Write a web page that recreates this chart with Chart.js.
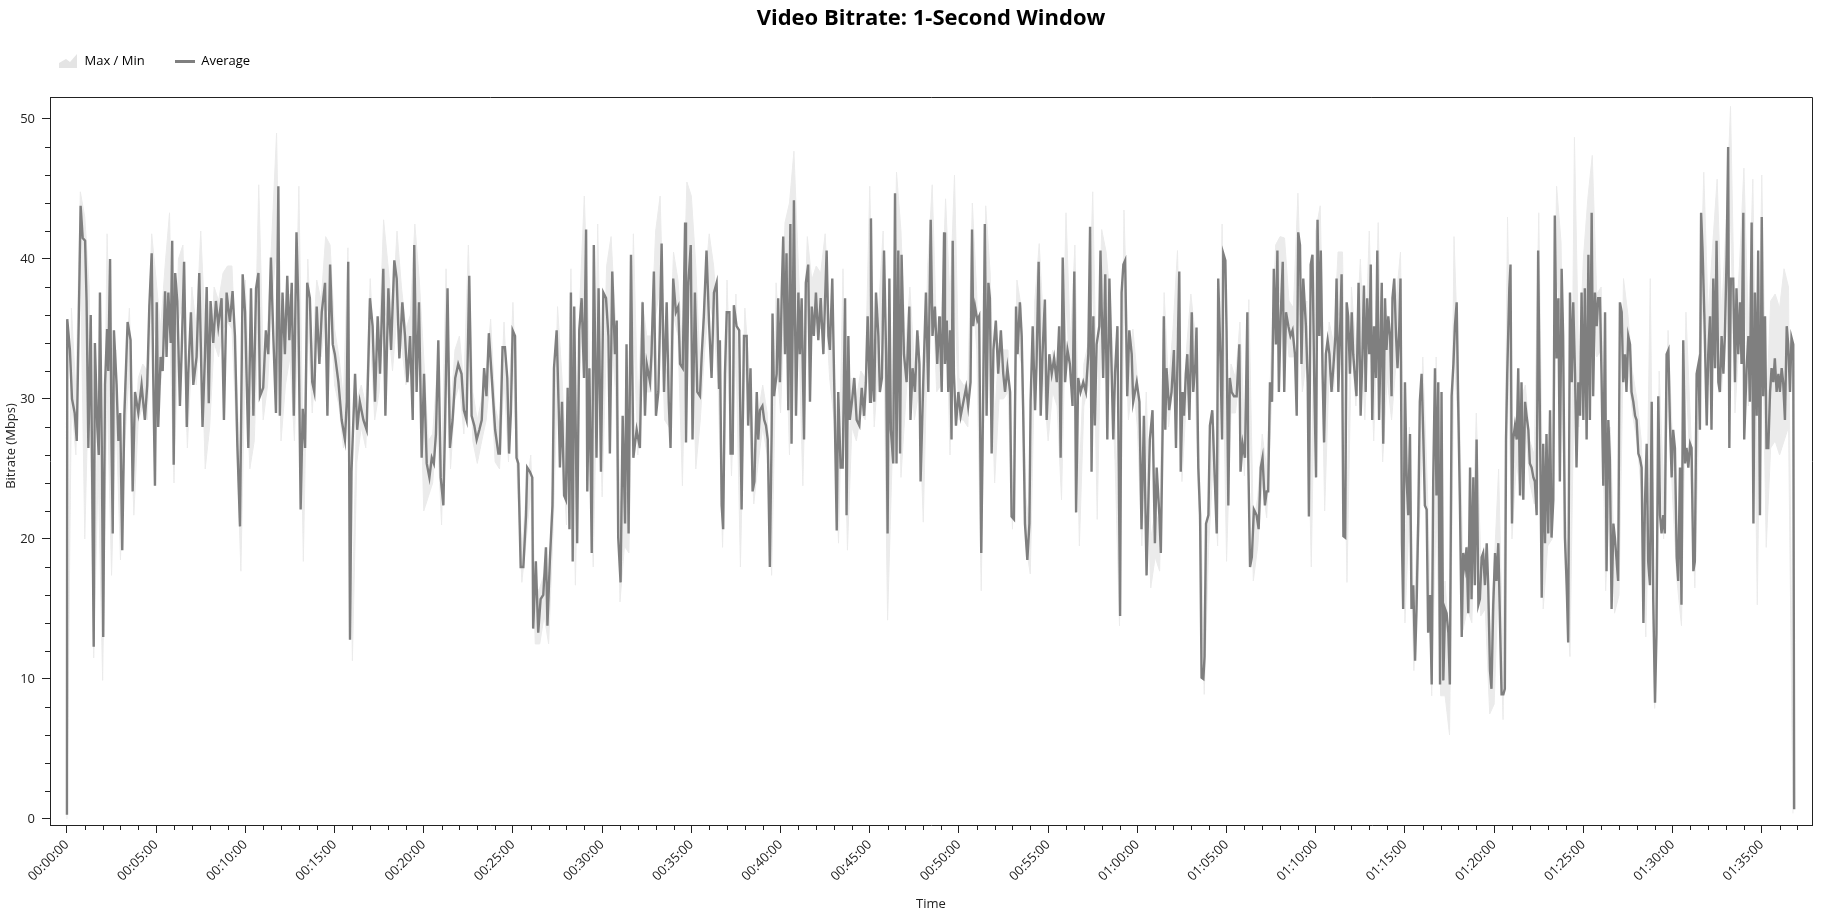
<!DOCTYPE html>
<html>
<head>
<meta charset="utf-8">
<title>Video Bitrate: 1-Second Window</title>
<script src="https://cdn.jsdelivr.net/npm/chart.js@4.4.1/dist/chart.umd.min.js"></script>
<style>
  html, body { margin: 0; padding: 0; background: #fff; }
  #wrap { width: 1832px; height: 918px; }
</style>
</head>
<body>
<div id="wrap"><canvas id="chart"></canvas></div>
<script>
const chartTitle = 'Video Bitrate: 1-Second Window';
const legendLabels = ['Max / Min', 'Average'];
const xTitle = 'Time';
const yTitle = 'Bitrate (Mbps)';

// tick positions: every 5 minutes on x (seconds), every 10 Mbps on y
const xTickSeconds = [0, 300, 600, 900, 1200, 1500, 1800, 2100, 2400, 2700,
  3000, 3300, 3600, 3900, 4200, 4500, 4800, 5100, 5400, 5700];
const yTickValues = [0, 10, 20, 30, 40, 50];

// average bitrate: time (s) and value (Mbps)
const avgSeconds = [
  0, 1, 10, 17, 26, 33, 40, 46, 53, 61,
  66, 72, 80, 90, 94, 102, 107, 111, 117, 122,
  128, 135, 139, 145, 150, 154, 158, 167, 173, 179,
  186, 193, 204, 214, 221, 229, 240, 251, 262, 270,
  277, 285, 290, 296, 302, 307, 315, 322, 330, 335,
  341, 349, 354, 359, 364, 371, 380, 386, 394, 403,
  408, 417, 425, 436, 445, 456, 464, 470, 477, 483,
  492, 501, 509, 520, 528, 537, 548, 557, 565, 573,
  582, 591, 599, 610, 619, 627, 636, 644, 649, 660,
  669, 677, 686, 694, 703, 711,
  716, 725, 733, 741, 748, 756, 763, 772, 778, 786,
  793, 801, 808, 817, 825, 832, 840, 849, 857, 868,
  876, 885, 894, 901, 913, 924, 935, 941, 946, 952,
  957, 969, 976, 985, 997, 1008, 1019, 1028, 1036, 1045,
  1053, 1064, 1071, 1081, 1090, 1101, 1109, 1118, 1128, 1137,
  1145, 1154, 1163, 1168, 1176, 1184, 1193, 1201, 1210, 1219,
  1227, 1234, 1241, 1249, 1257, 1266, 1272, 1280, 1288, 1297,
  1306, 1316, 1327, 1335, 1344, 1353, 1361, 1370, 1378, 1387,
  1395, 1403, 1411, 1419, 1428, 1440, 1451,
  1456, 1465, 1473, 1481, 1487, 1493, 1499, 1507, 1512, 1518,
  1526, 1535, 1544, 1548, 1557, 1565, 1568, 1577, 1585, 1593,
  1602, 1611, 1616, 1624, 1633, 1638, 1647, 1654, 1658, 1665,
  1672, 1678, 1684, 1690, 1695, 1701, 1706, 1716, 1723, 1731,
  1739, 1746, 1750, 1757, 1765, 1772, 1781, 1788, 1796, 1804,
  1813, 1821, 1826, 1834, 1843, 1849, 1854, 1862, 1869, 1877,
  1882, 1889, 1897, 1905, 1916, 1927, 1936, 1944, 1950, 1961,
  1966, 1974, 1981, 1989, 1994, 2000, 2008, 2017, 2024, 2030,
  2039, 2048, 2056, 2062, 2071, 2079, 2082, 2090, 2098, 2104,
  2112, 2120, 2129, 2135, 2142, 2151, 2160, 2168, 2176, 2185,
  2193,
  2196, 2202, 2207, 2213, 2219, 2228, 2232, 2239, 2243, 2252,
  2261, 2269, 2277, 2286, 2291, 2299, 2306, 2312, 2320, 2325,
  2331, 2339, 2345, 2351, 2357, 2364, 2370, 2373, 2378, 2387,
  2392, 2398, 2404, 2409, 2415, 2420, 2426, 2433, 2437, 2445,
  2452, 2460, 2465, 2471, 2479, 2485, 2493, 2499, 2505, 2512,
  2519, 2527, 2535, 2544, 2555, 2561, 2566, 2574, 2581, 2589,
  2594, 2602, 2609, 2617, 2622, 2628, 2633, 2640, 2648, 2656,
  2665, 2673, 2681, 2687, 2693, 2701, 2704, 2710, 2715, 2721,
  2729, 2734, 2741, 2748, 2755, 2760, 2766, 2771, 2779, 2785,
  2790, 2796, 2802, 2807, 2815, 2824, 2833, 2837, 2844, 2852,
  2860, 2867, 2871, 2880, 2889, 2897, 2905, 2911, 2919, 2927,
  2934,
  2936, 2942, 2950, 2953, 2959, 2964, 2970, 2975, 2979, 2983,
  2990, 2998, 3006, 3015, 3024, 3031, 3039, 3044, 3048, 3054,
  3062, 3068, 3075, 3082, 3087, 3093, 3099, 3104, 3110, 3116,
  3124, 3132, 3141, 3149, 3155, 3163, 3172, 3177, 3185, 3192,
  3197, 3205, 3211, 3216, 3222, 3230, 3237, 3241, 3248, 3256,
  3261, 3268, 3275, 3281, 3289, 3295, 3304, 3312, 3320, 3329,
  3337, 3342, 3349, 3357, 3365, 3373, 3382, 3388, 3394, 3401,
  3409, 3418, 3427, 3435, 3441, 3446, 3452, 3457, 3463, 3472,
  3476, 3485, 3492, 3499, 3506, 3510, 3519, 3525, 3533, 3542,
  3547, 3553, 3559, 3566, 3573, 3581, 3586, 3598, 3607, 3614,
  3622, 3631, 3642, 3651, 3659, 3665, 3674,
  3679, 3685, 3689, 3694, 3698, 3707, 3715, 3723, 3730, 3734,
  3741, 3746, 3752, 3757, 3763, 3768, 3775, 3783, 3788, 3795,
  3799, 3805, 3811, 3816, 3822, 3826, 3831, 3839, 3844, 3852,
  3859, 3867, 3872, 3880, 3885, 3889, 3896, 3900, 3906, 3911,
  3917, 3925, 3934, 3943, 3947, 3954, 3962, 3970, 3973, 3979,
  3985, 3992, 4001, 4008, 4015, 4021, 4029, 4035, 4040, 4046,
  4053, 4059, 4066, 4071, 4076, 4082, 4089, 4094, 4100, 4108,
  4115, 4122, 4130, 4136, 4141, 4147, 4152, 4158, 4167, 4173,
  4177, 4183, 4189, 4195, 4201, 4206, 4212, 4217, 4223, 4228,
  4234, 4240, 4246, 4253, 4259, 4266, 4270, 4276, 4281, 4287,
  4293, 4299, 4304, 4309, 4315, 4321, 4326, 4332, 4337, 4344,
  4351, 4357, 4362, 4368, 4373, 4380, 4385, 4390, 4396, 4402,
  4407, 4413,
  4416, 4422, 4427, 4433, 4438, 4444, 4450, 4455, 4458, 4464,
  4470, 4475, 4481, 4485, 4490, 4494, 4500, 4506, 4511, 4517,
  4522, 4528, 4534, 4539, 4545, 4550, 4556, 4562, 4567, 4573,
  4578, 4584, 4590, 4595, 4601, 4606, 4612, 4618, 4623, 4629,
  4635, 4640, 4646, 4651, 4657, 4663, 4668, 4674, 4679, 4685,
  4691, 4696, 4702, 4707, 4713, 4719, 4724, 4730, 4735, 4741,
  4747, 4752, 4758, 4763, 4769, 4775, 4780, 4786, 4791, 4797,
  4803, 4808, 4814, 4820, 4825, 4831, 4836, 4840, 4844, 4851,
  4855, 4860, 4864, 4870, 4876, 4881, 4887, 4892, 4898, 4904,
  4909, 4915, 4920, 4926, 4932, 4937, 4943, 4948, 4954, 4960,
  4965, 4971, 4976, 4982, 4988, 4993, 4999, 5004, 5010, 5016,
  5021, 5027, 5032, 5038, 5044, 5049, 5055, 5061, 5066, 5072,
  5077, 5083, 5089, 5094, 5100, 5105, 5111, 5117, 5122, 5128,
  5133, 5139, 5145, 5150,
  5156, 5161, 5167, 5173, 5178, 5184, 5189, 5195, 5201, 5206,
  5212, 5217, 5223, 5229, 5234, 5240, 5245, 5251, 5257, 5262,
  5268, 5274, 5279, 5285, 5290, 5296, 5302, 5307, 5313, 5318,
  5324, 5330, 5335, 5341, 5346, 5352, 5358, 5363, 5369, 5374,
  5380, 5386, 5391, 5397, 5402, 5408, 5414, 5419, 5425, 5430,
  5436, 5442, 5447, 5453, 5459, 5464, 5470, 5475, 5481, 5487,
  5492, 5496, 5501, 5507, 5515, 5520, 5526, 5531, 5537, 5543,
  5548, 5554, 5559, 5565, 5571, 5576, 5582, 5587, 5591, 5596,
  5604, 5610, 5615, 5621, 5627, 5632, 5638, 5641, 5649, 5655,
  5660, 5666, 5672, 5677, 5683, 5688, 5694, 5700, 5705, 5711,
  5716, 5722, 5728, 5733, 5739, 5744, 5750, 5756, 5761, 5767,
  5772, 5778, 5784, 5789, 5795, 5800, 5806, 5809
];
const avgMbps = [
  0.3, 35.7, 33.5, 30, 29, 27, 36, 43.8, 41.5, 41.3,
  37, 26.5, 36, 12.3, 34, 28, 26, 37.6, 27, 13,
  31, 35, 32, 40, 26.8, 20.4, 34.9, 31, 27, 29,
  19.2, 28.8, 35.5, 34.2, 23.4, 30.5, 29, 31, 28.5, 31,
  36.6, 40.4, 31.8, 23.8, 36.9, 28, 33, 32, 37.7, 33,
  37.6, 34, 41.3, 25.3, 39, 37, 29.5, 33.5, 39.8, 28,
  31.8, 36.2, 31, 33, 39, 28, 33, 38, 29.7, 37,
  34, 37, 35.2, 37.2, 28.5, 37.6, 35.5, 37.7, 34.5, 26.8,
  20.9, 38.9, 36.2, 26.5, 37.9, 28.8, 37.9, 39, 30.2, 30.8,
  34.9, 33.2, 40.1, 34.5, 29, 45.2,
  28.8, 37.6, 33.2, 38.8, 34.2, 38.3, 28.8, 41.9, 36.9, 22.1,
  29.3, 26.5, 38.3, 37.2, 31.2, 30.5, 36.6, 32.5, 36.2, 38.3,
  28.8, 39.6, 33.9, 33.2, 31.2, 28.5, 27.1, 29.8, 39.8, 12.8,
  24.8, 31.8, 27.8, 29.8, 28.5, 27.8, 37.2, 35.2, 29.8, 35.9,
  31.8, 39.3, 28.8, 37.9, 33.5, 39.9, 38.6, 32.9, 36.9, 34.5,
  31.2, 34.5, 28.5, 41, 30.5, 36.9, 25.8, 31.8, 25.4, 24.4,
  25.8, 25.4, 27.5, 34.2, 24.4, 22.4, 28.5, 37.9, 26.5, 28.5,
  31.5, 32.5, 31.8, 29.2, 28.5, 38.8, 28.8, 28.1, 27.1, 27.8,
  28.5, 32.2, 30.2, 34.7, 31.8, 27.8, 26.1,
  26.1, 33.7, 33.7, 31.5, 26.1, 29, 34.9, 34.5, 25.8, 25.4,
  18, 18, 21.7, 25.1, 24.8, 24.4, 13.6, 18.4, 13.3, 15.7,
  16, 19.4, 13.8, 18.4, 22.4, 32.2, 34.9, 29.2, 25.1, 29.8,
  23.1, 22.8, 30.8, 20.7, 37.6, 18.4, 36.6, 19.7, 34.9, 37.2,
  31.5, 42.1, 23.4, 32.2, 19, 41, 25.8, 37.9, 24.8, 37.6,
  37.2, 34.5, 26.1, 39.1, 33.2, 35.6, 20.1, 16.9, 28.8, 21.1,
  33.9, 20.4, 40.3, 25.8, 27.8, 26.5, 36.9, 28.8, 32.5, 31.2,
  33.2, 39.1, 28.8, 30.5, 34.9, 41.1, 30.5, 36.9, 29.8, 26.5,
  38.6, 36.2, 36.6, 32.5, 32.2, 42.6, 26.9, 38.3, 41, 27.1,
  37.6, 30.5, 30.2, 33.2, 35.9, 40.6, 35.2, 31.5, 37.6, 38.3,
  30.8,
  34.2, 22.4, 20.7, 31.8, 36.2, 36.2, 26.1, 26.1, 36.7, 35.2,
  34.9, 22.1, 34.5, 34.5, 28.1, 32.2, 23.4, 24.1, 30.5, 27.1,
  29.2, 29.5, 28.5, 28.1, 27.1, 18, 27.5, 36.1, 30.2, 31.8,
  37.2, 31.2, 37.6, 41.6, 33.2, 40.4, 29.2, 42.5, 26.8, 44.2,
  28.8, 37.6, 33.2, 37.2, 27.1, 38.3, 39.6, 29.8, 36.6, 34.5,
  37.6, 34.2, 37.2, 33.2, 40.6, 34.5, 33.5, 38.6, 30.5, 20.6,
  30.5, 25.1, 25.1, 37.2, 21.7, 34.5, 28.5, 29.8, 31.5, 28.5,
  28.1, 30.8, 28.8, 31.2, 35.9, 29.8, 42.9, 31.2, 29.8, 37.6,
  34.5, 30.5, 31.5, 40.6, 33.2, 20.4, 38.6, 27.8, 25.4, 44.7,
  25.4, 40.6, 26.1, 40.3, 33.2, 31.2, 36.6, 28.5, 32.2, 30.5,
  34.9, 32.5, 24.1, 31.2, 37.6, 30.5, 42.8, 34.5, 36.6, 32.5,
  35.9,
  35.2, 30.5, 41.9, 32.5, 35.6, 30.5, 34.9, 27.1, 41.3, 31.8,
  28.1, 30.5, 28.8, 29.8, 30.8, 29.5, 31.2, 42.1, 35.2, 36.6,
  35.6, 35.9, 19, 31.2, 42.5, 28.8, 38.3, 37.2, 26.1, 33.5,
  35.6, 31.8, 34.9, 31.8, 30.5, 32.2, 30.5, 21.6, 21.4, 36.6,
  33.2, 36.9, 34.5, 29.2, 21.1, 18.5, 21.1, 29.8, 35.2, 29.2,
  32.5, 39.8, 28.8, 33.2, 37.1, 28.5, 33.2, 31.8, 32.9, 31.2,
  35.2, 25.8, 40.1, 31.2, 33.5, 32.5, 29.5, 39.1, 21.9, 31.5,
  30.5, 31.2, 30.5, 33.2, 42.3, 24.8, 35.9, 28.1, 33.9, 35.2,
  40.6, 31.5, 38.9, 27.1, 38.6, 35.2, 27.1, 31.8, 35.2, 14.5,
  37.6, 39.6, 39.9, 30.2, 34.9, 33.2, 29.8, 31.2, 29.8, 20.7,
  28.8, 17.4, 27.1, 29.2, 19.7, 25.1, 21.7,
  19, 27.8, 35.9, 27.8, 32.2, 29.2, 30.5, 33.5, 26.5, 31.8,
  39.1, 24.8, 30.5, 28.8, 31.8, 33.2, 28.5, 36.2, 30.5, 32.5,
  35.1, 25.1, 21.7, 10.1, 10, 11.6, 21.1, 21.7, 28.1, 29.2,
  25.1, 20.4, 38.6, 32.5, 27.1, 40.4, 39.9, 34.9, 22.4, 31.5,
  30.5, 30.2, 30.2, 33.9, 24.8, 26.8, 25.8, 36.2, 25.8, 18,
  18.7, 22.1, 21.7, 20.7, 25.1, 25.8, 22.4, 23.4, 23.4, 31.2,
  29.8, 39.3, 33.9, 40.6, 30.5, 35.9, 39.8, 30.5, 36.2, 35.2,
  34.5, 34.9, 33.2, 28.8, 41.9, 41, 32.5, 38.6, 35.2, 31.2,
  21.6, 39.6, 40.3, 31.2, 24.4, 42.8, 34.5, 40.6, 31.8, 26.9,
  33.2, 34.2, 33.2, 30.5, 32.2, 34.5, 38.6, 30.5, 34.2, 38.9,
  20.2, 20.1, 36.9, 35.9, 31.8, 36.2, 33.2, 31.5, 30.2, 38.3,
  28.8, 33.2, 38.1, 30.5, 37.2, 33.2, 39.6, 28.5, 35.2, 31.5,
  40.6, 28.5,
  28.5, 38.3, 26.8, 37.2, 33.5, 35.9, 34.5, 30.2, 37.2, 38.6,
  34.5, 32.2, 35.2, 38.6, 19.7, 15, 31.2, 24.1, 21.7, 27.5,
  15, 16.7, 11.3, 15, 21.7, 29.8, 31.8, 27.1, 22.4, 22.1,
  13.3, 16, 9.6, 24.1, 32.2, 23.1, 31.2, 9.6, 30.5, 9.9,
  15, 14.7, 13.3, 9.6, 30.2, 32.5, 35.2, 36.9, 29.8, 22.4,
  13, 19, 18, 19.4, 14.7, 25.1, 15.7, 24.4, 16.7, 27.1,
  15.3, 15.7, 18.7, 19, 16.7, 19.7, 16.7, 10.6, 9.3, 15.3,
  19, 17, 19.7, 13.7, 8.9, 8.9, 9.3, 27.1, 31.8, 37.9,
  39.6, 21.1, 27.1, 28.1, 27.1, 32.2, 23.1, 31.2, 22.8, 29.8,
  28.8, 27.8, 25.4, 25.1, 24.4, 24.1, 21.7, 40.6, 28.5, 15.8,
  26.8, 19.7, 27.5, 20.4, 29.2, 20.1, 22.8, 43.1, 32.9, 37.2,
  24.1, 39.3, 34.5, 20.1, 16.7, 12.6, 37.6, 31.2, 36.9, 31.8,
  25.1, 31.2, 28.8, 37.6, 28.5, 37.9, 27.1, 40.3, 28.5, 43.3,
  30.2, 37.6, 35.2, 37.2,
  37.2, 31.8, 23.8, 36.2, 17.7, 28.5, 25.8, 15, 21.1, 20.1,
  18.4, 17, 36.9, 36.2, 31.2, 33.2, 30.5, 34.5, 33.9, 30.5,
  29.8, 28.8, 28.5, 26.1, 25.8, 25.1, 14, 22.4, 26.8, 18.4,
  16.7, 29.8, 15.7, 8.3, 13.3, 30.2, 21.7, 20.4, 21.7, 20.4,
  33.2, 33.5, 28.5, 24.4, 27.8, 26.5, 18.7, 17, 25.1, 15.3,
  34.2, 25.4, 26.5, 25.1, 26.8, 26.5, 17.7, 18.4, 31.8, 32.5,
  27.8, 43.3, 40.6, 35.9, 28.1, 33.2, 35.9, 27.8, 38.6, 32.2,
  41.3, 31.2, 30.5, 34.5, 31.8, 34.5, 40.3, 48, 26.5, 38.6,
  38.6, 31.2, 37.9, 33.2, 36.9, 32.5, 43.3, 27.1, 32.2, 34.5,
  29.8, 42.6, 21.1, 37.6, 28.8, 40.6, 21.7, 43, 30.2, 35.9,
  26.5, 26.5, 30.5, 32.2, 31.2, 32.9, 30.5, 31.8, 30.5, 32.2,
  31.2, 28.5, 35.2, 33.9, 30.5, 34.4, 33.9, 0.7
];

// max / min band, one sample every 15 s from 00:00:00
const bandStepSeconds = 15;
const maxMbps = [
  0.6, 36.5, 30.5, 44.8, 43, 38, 15, 30, 16, 41.8, 29, 33.5,
  22, 31, 36.5, 26, 31.5, 32.5, 32, 41.8, 38.5, 35, 39.5, 43.3,
  28, 40, 41, 30.5, 38, 35, 42, 35, 32, 38, 37, 39,
  39.5, 39.5, 32, 23, 38.5, 29, 31, 45.3, 33, 35, 42, 49,
  31.5, 35.5, 37.5, 31, 45.2, 25, 40, 33, 38.5, 37, 41.6, 41,
  35, 33, 30, 40.8, 15, 30, 31, 29.5, 38.6, 32, 34, 42.8,
  39.5, 36, 42, 38, 35, 36, 42.5, 38.5, 33, 27, 27.5, 32,
  25, 39.3, 29, 33.5, 34.5, 31, 41, 30.5, 28.5, 30, 32, 35.7,
  29.5, 28, 35.5, 29, 36.9, 27.5, 19, 23.5, 26, 16, 16.5, 17.5,
  16.5, 25, 36.6, 31.5, 25, 39.3, 22.5, 37, 44.5, 34.5, 22, 42.5,
  27, 39.5, 41.6, 35.5, 22.5, 23.5, 23, 41.8, 29.5, 37, 34.5, 34.5,
  42, 44.5, 32.5, 31.5, 40.5, 38.5, 34, 45.5, 44.5, 39.5, 32, 38,
  41.8, 39.5, 35, 23.5, 38.5, 28, 37.5, 25, 36.5, 32, 26, 29,
  31, 29, 20.5, 38.3, 33, 42.6, 44, 47.7, 39.5, 32, 41.6, 38.5,
  39.5, 39, 41.8, 35.5, 32.5, 23, 39.3, 24, 31.5, 30, 32, 31.5,
  45.2, 31.5, 36.5, 42, 23, 29.5, 46.2, 42, 33.5, 38, 32.5, 34.5,
  27, 39.5, 45.3, 34.5, 35, 44.3, 37, 46, 31.5, 31, 31, 44,
  37.5, 22, 43.8, 39, 28.5, 34, 33.5, 33.5, 23, 38.5, 36.5, 23,
  20.5, 37, 41.1, 35, 30.5, 33.5, 32.5, 28, 43.3, 34, 41, 24.5,
  32.5, 34, 44.8, 28, 42.1, 40.5, 37, 29, 17, 43.5, 32, 35,
  31.5, 23, 30.5, 20, 22, 21, 37.6, 31, 35, 40.6, 27, 33.5,
  37.5, 34.5, 24, 12, 23.5, 29, 23, 42.5, 26, 32.5, 31.5, 35.5,
  28, 37.1, 21, 23, 27.5, 25, 33, 41, 41.6, 41.5, 37, 36.5,
  44.7, 34.5, 37, 24, 42, 43.8, 29, 35.5, 34, 40.5, 40.5, 22.5,
  38, 33.5, 40, 32.5, 42, 30.5, 42.6, 29, 36, 32.5, 37, 40.5,
  19, 28, 14, 23, 33, 24, 12, 33, 12.5, 17, 12, 41.6,
  32, 18.5, 19.5, 18, 29, 18.5, 19, 12, 18, 25, 11, 43,
  25, 29, 30, 31, 27, 26, 43.3, 20, 24, 25, 45.2, 41.2,
  22, 15, 48.7, 32, 40, 44.3, 47.4, 37.5, 38, 21, 28, 18,
  19, 38.6, 36, 32, 30, 27, 17, 38.6, 11, 32, 23.5, 34.9,
  27, 20.5, 18, 36.2, 28.5, 20, 34, 46.2, 36, 41, 45.7, 36,
  42.5, 50.9, 34, 39.5, 46.5, 35, 45.7, 24, 46, 29, 37, 37.5,
  36.5, 39.3, 38, 0.8
];
const minMbps = [
  0, 30, 26, 40, 20, 33, 11.5, 25, 9.9, 31, 17.4, 29,
  18.5, 27, 32, 21.7, 28.5, 29.5, 28.5, 37, 34, 31, 35, 35.5,
  24, 35.5, 37, 26.5, 33.5, 31, 36, 25, 28, 34, 33, 35,
  35.5, 35, 27.5, 17.7, 33.5, 25, 27, 36.5, 28.5, 31, 37, 41,
  27, 31, 33, 27, 38, 18.4, 35.5, 29, 34.5, 33, 36, 37,
  31, 29.5, 26.5, 37, 11.3, 25.5, 28, 26.5, 34.5, 28.5, 30.5, 36.5,
  35.5, 32, 36, 34, 31, 32, 38, 34, 22, 23, 24, 28,
  21, 34.5, 25, 30, 31, 27.5, 36, 27, 25.4, 27, 28.5, 32,
  25.5, 25, 31.5, 25.5, 33, 24, 16.9, 20, 23.5, 12.5, 12.5, 14.5,
  12.5, 20.5, 31.5, 27.5, 21, 34, 16.7, 32, 38, 29.5, 18, 34,
  23, 34.5, 35, 30.5, 15.5, 19.5, 19, 36, 26, 33, 30.5, 30.5,
  36, 38, 28.5, 28, 36, 34.5, 23.8, 38.5, 38, 25, 28.5, 33.5,
  37, 35.5, 31, 19.4, 34, 24.5, 33.5, 18, 32.5, 28.5, 22.5, 25.5,
  28, 26, 17.4, 33, 29, 37.5, 26, 40, 35.5, 23.8, 37, 34.5,
  35.5, 35, 37.5, 31.5, 28.5, 19.7, 34, 19.2, 28, 27, 29, 28.5,
  39, 28, 32.5, 37, 14.2, 25.5, 40, 24.4, 29.5, 34, 28.5, 30.5,
  21.2, 35, 39, 30.5, 31, 38, 26, 38, 28.5, 28.5, 28, 38,
  33.5, 16.3, 38, 35, 24, 30, 30, 30.5, 20.7, 34, 32.5, 19.5,
  17.5, 33, 37, 31, 27, 30.5, 29.5, 22.8, 37, 31, 36, 19.5,
  29.5, 31, 38.5, 21.4, 37.5, 36, 33, 25.5, 13.8, 37, 28.5, 31.5,
  28, 19.5, 27, 16.5, 18.7, 17.7, 33, 28, 31, 36, 24.1, 30,
  33, 30.5, 20, 8.9, 19.5, 25.5, 19.5, 37, 18.4, 29, 29, 32,
  24.5, 33, 17, 19.5, 24, 21.5, 29, 36.5, 37, 36.5, 33, 33,
  38, 30.5, 33, 18, 37, 39, 22, 32, 30.5, 36, 36, 16.9,
  34, 29.5, 36, 28.5, 36.5, 27, 37, 25.5, 31.5, 28.5, 32.5, 36,
  14, 22, 10.6, 19, 27.5, 20, 8.8, 22, 8.8, 8.8, 6, 33,
  28, 13.5, 15, 14, 24.5, 14.5, 15, 7.5, 8.2, 17.5, 7.1, 34,
  20, 25.5, 23, 28, 24, 22.5, 36, 15, 19.5, 20, 39, 35,
  17, 11.6, 33, 28, 35.5, 37, 39, 33, 33.5, 16.3, 23.5, 14.7,
  16, 34, 32, 29, 27, 23.5, 13, 26, 7.9, 27.5, 20, 31,
  23, 17, 13.8, 31.5, 25, 16.5, 30, 39, 31, 36, 38, 30.5,
  37, 43, 29, 34.5, 40, 29.5, 39, 15.3, 39, 19.4, 26.5, 27,
  26, 27, 28, 0.4
];

const lineColor = '#7f7f7f';
const bandColor = '#ebebeb';
const axisColor = '#222';

const avgPoints = avgMbps.map((v, i) => ({ x: avgSeconds[i], y: v }));
const bandPoints = (arr) => arr.map((v, i) => ({ x: i * bandStepSeconds, y: v }));

const fmtTime = (s) => {
  const h = Math.floor(s / 3600);
  const m = Math.floor((s % 3600) / 60);
  const sec = Math.floor(s % 60);
  return [h, m, sec].map(n => String(n).padStart(2, '0')).join(':');
};

// small legend swatches
const makeSwatch = (w, h, draw) => {
  const c = document.createElement('canvas');
  c.width = w;
  c.height = h;
  draw(c.getContext('2d'));
  return c;
};
const bandSwatch = makeSwatch(18, 14, (g) => {
  g.fillStyle = '#e4e4e4';
  g.beginPath();
  g.moveTo(0, 14);
  g.lineTo(0, 9);
  g.lineTo(7, 5);
  g.lineTo(11, 8);
  g.lineTo(18, 0);
  g.lineTo(18, 14);
  g.closePath();
  g.fill();
});
const lineSwatch = makeSwatch(20, 3, (g) => {
  g.fillStyle = lineColor;
  g.fillRect(0, 0, 20, 3);
});

// frame, minor ticks, y title and title/legend placement
const axisExtras = {
  id: 'axisExtras',
  afterLayout(chart) {
    const a = chart.chartArea;
    const t = chart.titleBlock;
    t.left = a.left;
    t.right = a.right;
    t.top = 0;
    chart.legend.left = 28;
    chart.legend.top = 24.5;
  },
  afterDraw(chart) {
    const { ctx, chartArea: a, scales: { x, y } } = chart;
    ctx.save();
    ctx.strokeStyle = axisColor;
    ctx.lineWidth = 1;
    ctx.beginPath();
    ctx.moveTo(Math.round(a.left), Math.round(a.top) + 0.5);
    ctx.lineTo(Math.round(a.right) + 0.5, Math.round(a.top) + 0.5);
    ctx.lineTo(Math.round(a.right) + 0.5, Math.round(a.bottom));
    // minor y ticks every 2 Mbps
    for (let v = 2; v <= y.max; v += 2) {
      if (v % 10 === 0) continue;
      const py = Math.round(y.getPixelForValue(v)) + 0.5;
      ctx.moveTo(a.left - 5, py);
      ctx.lineTo(a.left, py);
    }
    // minor x ticks every minute
    for (let s = 60; s <= x.max; s += 60) {
      if (s % 300 === 0) continue;
      const px = Math.round(x.getPixelForValue(s)) + 0.5;
      ctx.moveTo(px, a.bottom);
      ctx.lineTo(px, a.bottom + 5);
    }
    ctx.stroke();

    // y axis title, placed as in the original
    ctx.translate(11.5, 446);
    ctx.rotate(-Math.PI / 2);
    ctx.fillStyle = axisColor;
    ctx.font = "13px 'Open Sans', 'Noto Sans', sans-serif";
    ctx.textAlign = 'center';
    ctx.textBaseline = 'middle';
    ctx.fillText(yTitle, 0, 0);
    ctx.restore();
  }
};

Chart.defaults.font.family = "'Open Sans', 'Noto Sans', sans-serif";
Chart.defaults.font.size = 13;
Chart.defaults.color = axisColor;

new Chart(document.getElementById('chart'), {
  type: 'line',
  data: {
    datasets: [
      {
        label: legendLabels[1],
        data: avgPoints,
        borderColor: lineColor,
        borderWidth: 2.4,
        pointRadius: 0,
        fill: false
      },
      {
        label: 'Max',
        data: bandPoints(maxMbps),
        borderColor: bandColor,
        backgroundColor: bandColor,
        borderWidth: 1,
        pointRadius: 0,
        fill: '+1'
      },
      {
        label: 'Min',
        data: bandPoints(minMbps),
        borderColor: bandColor,
        borderWidth: 1,
        pointRadius: 0,
        fill: false
      }
    ]
  },
  options: {
    responsive: true,
    maintainAspectRatio: false,
    animation: false,
    devicePixelRatio: 1,
    events: [],
    layout: { padding: { top: 11.6, right: 20, left: 0, bottom: 0 } },
    elements: { line: { tension: 0 } },
    plugins: {
      tooltip: { enabled: false },
      title: {
        display: true,
        text: chartTitle,
        color: '#000',
        font: { size: 22, weight: 'bold' },
        padding: { top: 6, bottom: 0 }
      },
      legend: {
        position: 'top',
        align: 'start',
        labels: {
          usePointStyle: true,
          pointStyleWidth: 20,
          padding: 30,
          color: '#333',
          font: { size: 13 },
          generateLabels: () => [
            { text: legendLabels[0], pointStyle: bandSwatch, fillStyle: bandColor, strokeStyle: bandColor, lineWidth: 0, hidden: false, datasetIndex: 1 },
            { text: legendLabels[1], pointStyle: lineSwatch, fillStyle: lineColor, strokeStyle: lineColor, lineWidth: 0, hidden: false, datasetIndex: 0 }
          ]
        }
      }
    },
    scales: {
      x: {
        type: 'linear',
        min: -57,
        max: 5869,
        afterFit: (s) => { s.height = 93; },
        afterBuildTicks: (s) => { s.ticks = xTickSeconds.map(v => ({ value: v })); },
        ticks: {
          autoSkip: false,
          minRotation: 45,
          maxRotation: 45,
          padding: 4,
          callback: (v) => fmtTime(v)
        },
        grid: { display: true, drawOnChartArea: false, drawTicks: true, tickLength: 8, tickColor: axisColor },
        border: { display: true, color: axisColor, width: 1 },
        title: { display: true, text: xTitle, padding: { top: 4, bottom: 6 } }
      },
      y: {
        type: 'linear',
        min: -0.43,
        max: 51.57,
        afterFit: (s) => { s.width = 50; },
        afterBuildTicks: (s) => { s.ticks = yTickValues.map(v => ({ value: v })); },
        ticks: { padding: 7 },
        grid: { display: true, drawOnChartArea: false, drawTicks: true, tickLength: 8, tickColor: axisColor },
        border: { display: true, color: axisColor, width: 1 },
        title: { display: false, text: yTitle }
      }
    }
  },
  plugins: [axisExtras]
});
</script>
</body>
</html>
